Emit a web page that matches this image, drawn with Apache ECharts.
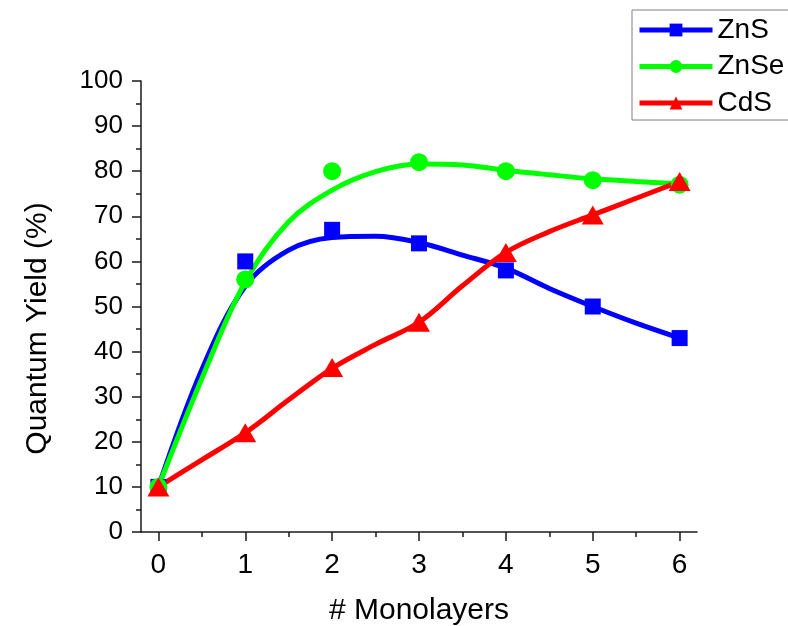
<!DOCTYPE html>
<html>
<head>
<meta charset="utf-8">
<script src="https://cdn.jsdelivr.net/npm/echarts@6/dist/echarts.min.js"></script>
<style>
  html, body { margin: 0; padding: 0; background: #fff; }
  #chart { width: 788px; height: 626px; }
</style>
</head>
<body>
<div id="chart"></div>
<script>
// Measured quantum yield (%) per number of shell monolayers
const monolayers = [0, 1, 2, 3, 4, 5, 6];
const znsQY  = [10, 60, 67, 64, 58, 50, 43];
const znseQY = [10, 56, 80, 82, 80, 78, 77];
const cdsQY  = [10, 22, 36.5, 46.5, 62, 70.3, 77.7];

// Smoothed trend curves, sampled every half monolayer
const curveX    = [0, 0.5, 1, 1.5, 2, 2.5, 3, 3.5, 4, 4.5, 5, 5.5, 6];
const znsCurve  = [10, 36, 54.5, 62.5, 65.3, 65.6, 64.2, 61.4, 58.5, 54, 50, 46.3, 43];
const znseCurve = [10, 34, 55.5, 68.8, 75.8, 79.9, 81.6, 81.4, 80.2, 79.2, 78.3, 77.7, 77.2];
const cdsCurve  = [10, 16, 22, 29.3, 36.3, 41.6, 46.5, 54.6, 62, 66.6, 70.3, 74, 77.7];

// Axis ticks
const xMajorTicks = [0, 1, 2, 3, 4, 5, 6];
const xMinorTicks = [0.5, 1.5, 2.5, 3.5, 4.5, 5.5];
const seriesNames = ['ZnS', 'ZnSe', 'CdS'];
const seriesColors = ['#0000ff', '#00ff00', '#ff0000'];

const FONT = "'Liberation Sans', Arial, sans-serif";

function pairs(xs, ys) { return xs.map((x, i) => [x, ys[i]]); }

const curves = [znsCurve, znseCurve, cdsCurve];
const points = [znsQY, znseQY, cdsQY];
const symbols = ['rect', 'circle', 'triangle'];
const symbolSizes = [16, 18, [22, 19]];

const lineSeries = seriesNames.map((name, i) => ({
  name: name,
  type: 'line',
  data: pairs(curveX, curves[i]),
  smooth: 0.35,
  symbol: symbols[i],
  showSymbol: false,
  lineStyle: { color: seriesColors[i], width: 5 },
  itemStyle: { color: seriesColors[i] },
  z: 2
}));

const markerSeries = seriesNames.map((name, i) => ({
  name: name,
  type: 'scatter',
  data: pairs(monolayers, points[i]),
  symbol: symbols[i],
  symbolSize: symbolSizes[i],
  itemStyle: { color: seriesColors[i], opacity: 1 },
  z: 3
}));

const chart = echarts.init(document.getElementById('chart'), null, { renderer: 'canvas' });
chart.setOption({
  animation: false,
  backgroundColor: '#ffffff',
  textStyle: { fontFamily: FONT, color: '#000' },
  grid: { left: 141, top: 81, right: 91, bottom: 94, containLabel: false, outerBoundsMode: 'none' },
  legend: {
    data: seriesNames,
    orient: 'vertical',
    left: 632,
    top: 10,
    padding: [6, 50, 3, 5],
    itemWidth: 73,
    itemHeight: 16,
    itemGap: 8.5,
    borderColor: '#808080',
    borderWidth: 1,
    backgroundColor: '#fff',
    lineStyle: { width: 5 },
    textStyle: { fontSize: 28, fontFamily: FONT, color: '#000' }
  },
  xAxis: [
    {
      type: 'value',
      min: -0.2,
      max: 6.2,
      name: '# Monolayers',
      nameLocation: 'middle',
      nameGap: 64,
      nameTextStyle: { fontSize: 30, fontFamily: FONT, color: '#000' },
      axisLine: { show: true, onZero: false, lineStyle: { color: '#1a1a1a', width: 1.5 } },
      axisTick: { show: true, inside: false, length: 9, customValues: xMajorTicks, lineStyle: { color: '#1a1a1a', width: 1.5 } },
      axisLabel: { customValues: xMajorTicks, fontSize: 28, fontFamily: FONT, color: '#000', margin: 19 },
      splitLine: { show: false }
    },
    {
      type: 'value',
      min: -0.2,
      max: 6.2,
      position: 'bottom',
      axisLine: { show: false },
      axisTick: { show: true, inside: false, length: 5, customValues: xMinorTicks, lineStyle: { color: '#1a1a1a', width: 1.5 } },
      axisLabel: { show: false },
      splitLine: { show: false }
    }
  ],
  yAxis: {
    type: 'value',
    min: 0,
    max: 100,
    interval: 10,
    name: 'Quantum Yield (%)',
    nameLocation: 'middle',
    nameGap: 88,
    nameTextStyle: { fontSize: 30, fontFamily: FONT, color: '#000', padding: [0, 44, 0, 0] },
    axisLine: { show: true, onZero: false, lineStyle: { color: '#1a1a1a', width: 1.5 } },
    axisTick: { show: true, inside: false, length: 9, lineStyle: { color: '#1a1a1a', width: 1.5 } },
    minorTick: { show: true, splitNumber: 2, length: 5, lineStyle: { color: '#1a1a1a', width: 1.5 } },
    axisLabel: { fontSize: 26, fontFamily: FONT, color: '#000', margin: 18 },
    splitLine: { show: false }
  },
  series: lineSeries.concat(markerSeries)
});
</script>
</body>
</html>
